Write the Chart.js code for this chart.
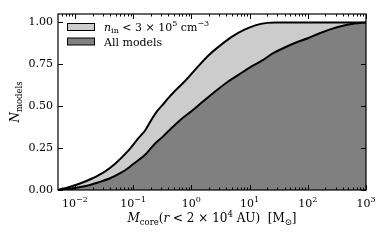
<!DOCTYPE html>
<html>
<head>
<meta charset="utf-8">
<script src="https://cdn.jsdelivr.net/npm/chart.js@4/dist/chart.umd.min.js"></script>
<style>
    html, body { margin: 0; padding: 0; background: #fff; }
    #myChart { display: block; }
</style>
</head>
<body>
<canvas id="myChart" width="390" height="244"></canvas>
<script>
// cumulative fraction of models, n_in < 3e5 cm^-3
const lowDensMass = [0.0051, 0.008, 0.0125, 0.02, 0.032, 0.05, 0.08, 0.125, 0.16, 0.2, 0.25, 0.32,
    0.4, 0.5, 0.8, 1.25, 2, 3.2, 5, 8, 12.5, 20, 28, 1000];
const lowDensFrac = [0.0, 0.018, 0.04, 0.07, 0.108, 0.16, 0.23, 0.312, 0.355, 0.412, 0.465, 0.508,
    0.548, 0.585, 0.655, 0.73, 0.805, 0.865, 0.915, 0.955, 0.982, 0.997, 1.0, 1.0];

// cumulative fraction, all models
const allMass = [0.0051, 0.01, 0.016, 0.025, 0.04, 0.063, 0.08, 0.1, 0.125, 0.16, 0.2, 0.25, 0.32,
    0.4, 0.63, 1, 1.6, 2.5, 4, 6.3, 10, 16, 25, 40, 63, 100, 160, 250, 400, 630, 1000];
const allFrac = [0.0, 0.012, 0.025, 0.045, 0.07, 0.105, 0.128, 0.155, 0.18, 0.21, 0.248, 0.285, 0.317,
    0.35, 0.415, 0.47, 0.53, 0.585, 0.64, 0.685, 0.73, 0.77, 0.815, 0.85, 0.88, 0.905, 0.935, 0.96,
    0.98, 0.993, 1.0];

// ticks
const yTicks = [0, 0.25, 0.5, 0.75, 1.0];
const yTickLabels = ['0.00', '0.25', '0.50', '0.75', '1.00'];
const xTicks = [0.01, 0.1, 1, 10, 100, 1000];
const xTickExp = ['\u22122', '\u22121', '0', '1', '2', '3'];

const SERIF = '"DejaVu Serif", "Liberation Serif", serif';

function toPoints(xs, ys) {
    return xs.map((v, i) => ({x: v, y: ys[i]}));
}

// dibuja una lista de trozos de texto (para sub/superindices)
function drawRuns(ctx, runs, x, y, align) {
    let total = 0;
    runs.forEach(r => { ctx.font = r.font; total += ctx.measureText(r.t).width; });
    let cx = x;
    if (align === 'center') cx = x - total / 2;
    if (align === 'right') cx = x - total;
    ctx.textAlign = 'left';
    runs.forEach(r => {
        ctx.font = r.font;
        ctx.fillText(r.t, cx, y + (r.dy || 0));
        cx += ctx.measureText(r.t).width;
    });
}

function f(size, style) {
    return (style ? style + ' ' : '') + size + 'px ' + SERIF;
}

const axesPlugin = {
    id: 'axesPlugin',
    afterDraw(chart) {
        const ctx = chart.ctx;
        const a = chart.chartArea;
        const xs = chart.scales.x;
        const ys = chart.scales.y;
        ctx.save();
        ctx.strokeStyle = '#000';
        ctx.fillStyle = '#000';

        // marco
        ctx.lineWidth = 1.2;
        ctx.strokeRect(a.left, a.top, a.right - a.left, a.bottom - a.top);

        // ticks y
        ctx.lineWidth = 1;
        ctx.beginPath();
        yTicks.forEach(v => {
            const py = Math.round(ys.getPixelForValue(v)) + 0.5;
            ctx.moveTo(a.left, py); ctx.lineTo(a.left + 5, py);
            ctx.moveTo(a.right, py); ctx.lineTo(a.right - 5, py);
        });
        // ticks x mayores y menores
        for (let d = 0.001; d < 2000; d *= 10) {
            for (let k = 1; k < 10; k++) {
                const m = d * k;
                if (m < xs.min || m > xs.max * 1.0001) continue;
                const px = Math.round(xs.getPixelForValue(m)) + 0.5;
                const len = (k === 1) ? 5 : 2.5;
                ctx.moveTo(px, a.bottom); ctx.lineTo(px, a.bottom - len);
                ctx.moveTo(px, a.top); ctx.lineTo(px, a.top + len);
            }
        }
        ctx.stroke();

        // etiquetas y
        ctx.textBaseline = 'middle';
        ctx.textAlign = 'right';
        ctx.font = f(11);
        yTicks.forEach((v, i) => {
            ctx.fillText(yTickLabels[i], a.left - 5, ys.getPixelForValue(v));
        });

        // etiquetas x
        ctx.textBaseline = 'alphabetic';
        xTicks.forEach((v, i) => {
            drawRuns(ctx, [
                {t: '10', font: f(11)},
                {t: xTickExp[i], font: f(8), dy: -5}
            ], xs.getPixelForValue(v), a.bottom + 17, 'center');
        });

        // titulo eje x
        drawRuns(ctx, [
            {t: 'M', font: f(12, 'italic')},
            {t: 'core', font: f(8.5), dy: 2.5},
            {t: '(', font: f(12)},
            {t: 'r', font: f(12, 'italic')},
            {t: ' < 2 \u00d7 10', font: f(12)},
            {t: '4', font: f(8.5), dy: -5},
            {t: ' AU)  [M', font: f(12)},
            {t: '\u2299', font: f(8.5), dy: 2.5},
            {t: ']', font: f(12)}
        ], (a.left + a.right) / 2, 222, 'center');

        // titulo eje y
        ctx.save();
        ctx.translate(19, (a.top + a.bottom) / 2);
        ctx.rotate(-Math.PI / 2);
        drawRuns(ctx, [
            {t: 'N', font: f(12, 'italic')},
            {t: 'models', font: f(8.5), dy: 2.5}
        ], 0, 0, 'center');
        ctx.restore();

        // leyenda
        const items = [chart.data.datasets[1], chart.data.datasets[0]];
        items.forEach((ds, i) => {
            const top = a.top + 13 + i * 14.5;
            ctx.fillStyle = ds.backgroundColor;
            ctx.fillRect(a.left + 9.5, top - 3.5, 27, 7);
            ctx.lineWidth = 1;
            ctx.strokeStyle = '#000';
            ctx.strokeRect(a.left + 9.5, top - 3.5, 27, 7);
            ctx.fillStyle = '#000';
        });
        ctx.textBaseline = 'alphabetic';
        drawRuns(ctx, [
            {t: 'n', font: f(11, 'italic')},
            {t: 'in', font: f(8), dy: 2},
            {t: ' < 3 \u00d7 10', font: f(11)},
            {t: '5', font: f(8), dy: -5},
            {t: ' cm', font: f(11)},
            {t: '\u22123', font: f(8), dy: -5}
        ], a.left + 46, a.top + 17, 'left');
        drawRuns(ctx, [
            {t: 'All models', font: f(11)}
        ], a.left + 46, a.top + 31.5, 'left');

        ctx.restore();
    }
};

let myChart = null;
window.onload = function () {
    const ctx = document.getElementById('myChart');

    myChart = new Chart(ctx, {
        type: 'line',
        data: {
            datasets: [{
                label: 'All models',
                data: toPoints(allMass, allFrac),
                backgroundColor: '#808080',
                borderColor: '#000',
                borderWidth: 2,
                fill: 'origin',
                pointRadius: 0,
                cubicInterpolationMode: 'monotone',
                order: 1
            }, {
                label: 'n_in < 3e5 cm^-3',
                data: toPoints(lowDensMass, lowDensFrac),
                backgroundColor: '#cccccc',
                borderColor: '#000',
                borderWidth: 2,
                fill: 'origin',
                pointRadius: 0,
                cubicInterpolationMode: 'monotone',
                order: 2
            }]
        },
        options: {
            responsive: false,
            animation: false,
            devicePixelRatio: 1,
            layout: {
                padding: {left: 58, right: 24, top: 14, bottom: 54}
            },
            plugins: {
                legend: {display: false},
                tooltip: {enabled: false}
            },
            scales: {
                x: {
                    type: 'logarithmic',
                    display: false,
                    min: 0.0051,
                    max: 1000
                },
                y: {
                    type: 'linear',
                    display: false,
                    min: 0,
                    max: 1.05
                }
            }
        },
        plugins: [axesPlugin]
    });
};
</script>
</body>
</html>
